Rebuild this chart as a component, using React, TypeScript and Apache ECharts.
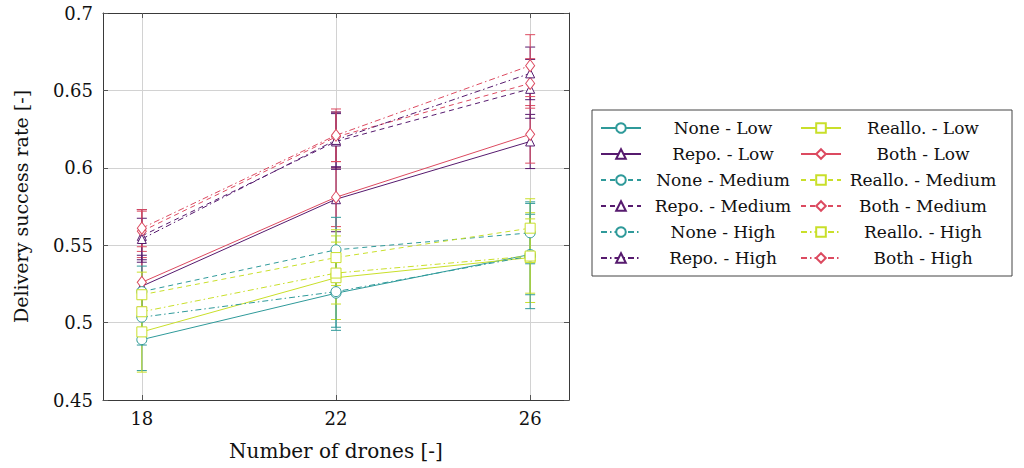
import React, { useEffect, useRef } from "react";
import * as echarts from "echarts";

// Number of drones on the x axis
const drones = [18, 22, 26];

// Mean delivery success rate and its spread (±) per strategy and demand level
const noneLow = [0.489, 0.519, 0.544];
const noneLowErr = [0.02, 0.024, 0.026];
const repoLow = [0.5235, 0.5797, 0.617];
const repoLowErr = [0.02, 0.021, 0.0175];
const noneMedium = [0.52, 0.547, 0.558];
const noneMediumErr = [0.0165, 0.021, 0.02];
const repoMedium = [0.556, 0.617, 0.651];
const repoMediumErr = [0.017, 0.018, 0.019];
const noneHigh = [0.5035, 0.52, 0.543];
const noneHighErr = [0.018, 0.023, 0.034];
const repoHigh = [0.554, 0.618, 0.661];
const repoHighErr = [0.0134, 0.018, 0.017];

const reallocLow = [0.494, 0.529, 0.542];
const reallocLowErr = [0.026, 0.027, 0.029];
const bothLow = [0.526, 0.581, 0.6216];
const bothLowErr = [0.016, 0.019, 0.0186];
const reallocMedium = [0.518, 0.542, 0.561];
const reallocMediumErr = [0.0146, 0.018, 0.019];
const bothMedium = [0.559, 0.62, 0.6545];
const bothMediumErr = [0.013, 0.016, 0.016];
const reallocHigh = [0.507, 0.532, 0.543];
const reallocHighErr = [0.019, 0.02, 0.024];
const bothHigh = [0.561, 0.621, 0.666];
const bothHighErr = [0.012, 0.017, 0.02];

const yTicks = [0.45, 0.5, 0.55, 0.6, 0.65, 0.7];

const FONT = "DejaVu Serif";
const TEAL = "#2f9a9a";
const PURPLE = "#561a6e";
const LIME = "#c9df2a";
const RED = "#dc4a60";

type Line = {
  name: string;
  values: number[];
  errors: number[];
  color: string;
  symbol: string;
  symbolSize: number | number[];
  dash: "solid" | number[];
};

const DASHED = [5, 4];
const DASHDOT = [6, 3, 1.5, 3];

// listed row by row so that the two-column legend reads column-wise
const lines: Line[] = [
  { name: "None - Low", values: noneLow, errors: noneLowErr, color: TEAL, symbol: "circle", symbolSize: 10, dash: "solid" },
  { name: "Reallo. - Low", values: reallocLow, errors: reallocLowErr, color: LIME, symbol: "rect", symbolSize: 10, dash: "solid" },
  { name: "Repo. - Low", values: repoLow, errors: repoLowErr, color: PURPLE, symbol: "triangle", symbolSize: 9, dash: "solid" },
  { name: "Both - Low", values: bothLow, errors: bothLowErr, color: RED, symbol: "diamond", symbolSize: [9, 12], dash: "solid" },
  { name: "None - Medium", values: noneMedium, errors: noneMediumErr, color: TEAL, symbol: "circle", symbolSize: 10, dash: DASHED },
  { name: "Reallo. - Medium", values: reallocMedium, errors: reallocMediumErr, color: LIME, symbol: "rect", symbolSize: 10, dash: DASHED },
  { name: "Repo. - Medium", values: repoMedium, errors: repoMediumErr, color: PURPLE, symbol: "triangle", symbolSize: 9, dash: DASHED },
  { name: "Both - Medium", values: bothMedium, errors: bothMediumErr, color: RED, symbol: "diamond", symbolSize: [9, 12], dash: DASHED },
  { name: "None - High", values: noneHigh, errors: noneHighErr, color: TEAL, symbol: "circle", symbolSize: 10, dash: DASHDOT },
  { name: "Reallo. - High", values: reallocHigh, errors: reallocHighErr, color: LIME, symbol: "rect", symbolSize: 10, dash: DASHDOT },
  { name: "Repo. - High", values: repoHigh, errors: repoHighErr, color: PURPLE, symbol: "triangle", symbolSize: 9, dash: DASHDOT },
  { name: "Both - High", values: bothHigh, errors: bothHighErr, color: RED, symbol: "diamond", symbolSize: [9, 12], dash: DASHDOT },
];

// x range padded by a tenth of the data span on each side
const X_MIN = 17.2;
const X_MAX = 26.8;

function errorBarSeries(l: Line) {
  return {
    type: "custom",
    name: l.name + " (spread)",
    xAxisIndex: 0,
    yAxisIndex: 0,
    z: 1,
    silent: true,
    encode: { x: 0, y: [1, 2] },
    data: drones.map((d, i) => [d, l.values[i] - l.errors[i], l.values[i] + l.errors[i]]),
    renderItem: (_params: any, api: any) => {
      const x = api.value(0);
      const lo = api.coord([x, api.value(1)]);
      const hi = api.coord([x, api.value(2)]);
      const hw = 5;
      const style = { stroke: l.color, lineWidth: 1 };
      return {
        type: "group",
        children: [
          { type: "line", shape: { x1: lo[0], y1: lo[1], x2: hi[0], y2: hi[1] }, style },
          { type: "line", shape: { x1: lo[0] - hw, y1: lo[1], x2: lo[0] + hw, y2: lo[1] }, style },
          { type: "line", shape: { x1: hi[0] - hw, y1: hi[1], x2: hi[0] + hw, y2: hi[1] }, style },
        ],
      };
    },
  };
}

function lineSeries(l: Line) {
  return {
    type: "line",
    name: l.name,
    xAxisIndex: 0,
    yAxisIndex: 0,
    z: 3,
    data: drones.map((d, i) => [d, l.values[i]]),
    color: l.color,
    symbol: l.symbol,
    symbolSize: l.symbolSize,
    showSymbol: true,
    itemStyle: { color: "#ffffff", borderColor: l.color, borderWidth: 1 },
    lineStyle: { color: l.color, width: 1, type: l.dash },
    emphasis: { disabled: true },
  };
}

const frameColor = "#3a3a3a";
const gridColor = "#d2d2d2";

function xAxisDef(position: "bottom" | "top", labelled: boolean) {
  return {
    type: "value",
    position,
    min: X_MIN,
    max: X_MAX,
    name: labelled ? "Number of drones [-]" : "",
    nameLocation: "middle",
    nameGap: 41,
    nameTextStyle: { fontFamily: FONT, fontSize: 20, color: "#111" },
    axisLine: { show: true, onZero: false, lineStyle: { color: frameColor, width: 1 } },
    axisTick: { show: true, inside: true, length: 5, customValues: drones, lineStyle: { color: "#555" } },
    axisLabel: {
      show: labelled,
      customValues: drones,
      margin: 9,
      fontFamily: FONT,
      fontSize: 18,
      color: "#111",
    },
    splitLine: { show: labelled, lineStyle: { color: gridColor, width: 1 } },
  };
}

function yAxisDef(position: "left" | "right", labelled: boolean) {
  return {
    type: "value",
    position,
    min: yTicks[0],
    max: yTicks[yTicks.length - 1],
    interval: 0.05,
    name: labelled ? "Delivery success rate [-]" : "",
    nameLocation: "middle",
    nameGap: 73,
    nameTextStyle: { fontFamily: FONT, fontSize: 19, color: "#111" },
    axisLine: { show: true, onZero: false, lineStyle: { color: frameColor, width: 1 } },
    axisTick: { show: true, inside: true, length: 5, lineStyle: { color: "#555" } },
    axisLabel: {
      show: labelled,
      margin: 10,
      fontFamily: FONT,
      fontSize: 18,
      color: "#111",
      formatter: (v: number) => String(Math.round(v * 100) / 100),
    },
    splitLine: { show: labelled, lineStyle: { color: gridColor, width: 1 } },
  };
}

export default function App() {
  const ref = useRef<HTMLDivElement>(null);

  useEffect(() => {
    if (!ref.current) return;
    const chart = echarts.init(ref.current, undefined, { renderer: "svg" });
    chart.setOption({
      animation: false,
      backgroundColor: "#ffffff",
      grid: { left: 103, right: 455, top: 13, bottom: 68 },
      xAxis: [xAxisDef("bottom", true), xAxisDef("top", false)],
      yAxis: [yAxisDef("left", true), yAxisDef("right", false)],
      legend: {
        data: lines.map((l) => l.name),
        orient: "horizontal",
        left: 592,
        top: 110,
        width: 410,
        itemWidth: 40,
        itemHeight: 12,
        itemGap: 0,
        padding: [5, 12, 5, 8],
        borderColor: "#444",
        borderWidth: 1,
        selectedMode: false,
        formatter: (name: string) => `{t|${name}}`,
        textStyle: {
          fontFamily: FONT,
          fontSize: 17,
          lineHeight: 26,
          color: "#111",
          rich: {
            t: { width: 154, height: 26, lineHeight: 26, align: "center", fontFamily: FONT, fontSize: 17, color: "#111" },
          },
        },
      },
      series: [...lines.map(errorBarSeries), ...lines.map(lineSeries)],
    });
    return () => chart.dispose();
  }, []);

  return (
    <div
      ref={ref}
      style={{ position: "absolute", left: 0, top: 0, width: 1024, height: 468 }}
    />
  );
}
